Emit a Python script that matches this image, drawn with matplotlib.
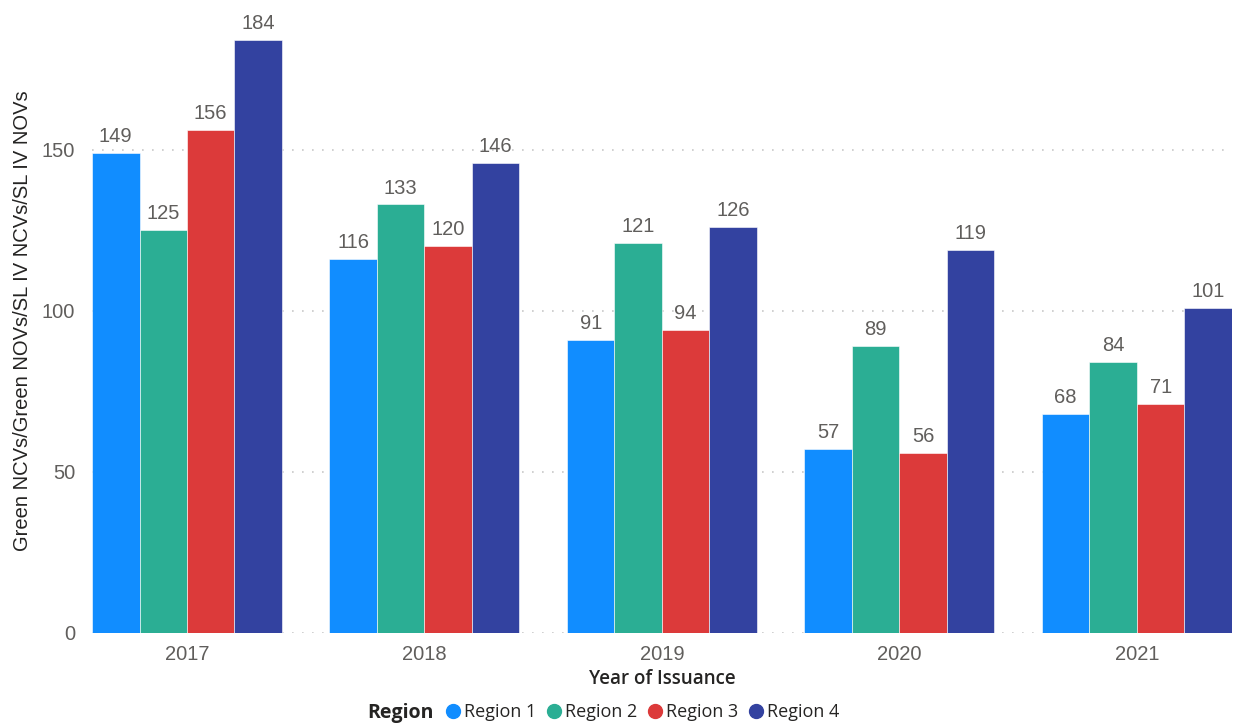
import numpy as np
import matplotlib.pyplot as plt
from matplotlib.lines import Line2D

years = ['2017', '2018', '2019', '2020', '2021']
regions = ['Region 1', 'Region 2', 'Region 3', 'Region 4']
region1 = [149, 116, 91, 57, 68]
region2 = [125, 133, 121, 89, 84]
region3 = [156, 120, 94, 56, 71]
region4 = [184, 146, 126, 119, 101]
colors = ['#118DFF', '#2BAE94', '#DC3A3A', '#3342A0']

plt.rcParams['font.family'] = ['Liberation Sans', 'DejaVu Sans']

fig = plt.figure(figsize=(12.35, 7.25), dpi=100)
ax = fig.add_axes([0.0745, 0.127, 0.923, 0.862])

x = np.arange(len(years))
width = 0.2
for i, vals in enumerate([region1, region2, region3, region4]):
    bars = ax.bar(x - 0.3 + i * width, vals, width, color=colors[i],
                  edgecolor='white', linewidth=0.4, zorder=3)
    ax.bar_label(bars, padding=5, fontsize=14.5, color='#605E5C')

ax.set_xlim(-0.4, 4.4)
ax.set_ylim(0, 194)
ax.set_yticks([0, 50, 100, 150])
ax.set_xticks(x)
ax.set_xticklabels(years)
ax.tick_params(axis='both', length=0, labelsize=14.5, labelcolor='#605E5C')
ax.tick_params(axis='x', pad=9)
ax.tick_params(axis='y', pad=12)
ax.yaxis.grid(True, linestyle=(0, (1, 5)), color='#C8C8C8', linewidth=1.2, zorder=0)
for s in ax.spines.values():
    s.set_visible(False)

ax.set_ylabel('Green NCVs/Green NOVs/SL IV NCVs/SL IV NOVs', fontsize=14.5,
              color='#252423', labelpad=7)
ax.set_xlabel('Year of Issuance', fontsize=13.5, color='#252423',
              family=['Open Sans', 'DejaVu Sans'], fontweight='semibold', labelpad=3)

# legend row: bold title on the left, then the four entries
handles = [Line2D([], [], marker='o', linestyle='', markersize=10, color=c) for c in colors]
fig.text(0.297, 0.016, 'Region', fontsize=14, fontweight='bold', color='#252423',
         family=['Open Sans', 'DejaVu Sans'], va='center')
fig.legend(handles, regions, loc='center left', bbox_to_anchor=(0.352, 0.018), ncol=4,
           frameon=False, handletextpad=-0.4, columnspacing=0.0,
           prop={'family': ['Open Sans', 'DejaVu Sans'], 'size': 13},
           labelcolor='#252423', borderaxespad=0, borderpad=0)

fig.savefig('out.png', dpi=100)
